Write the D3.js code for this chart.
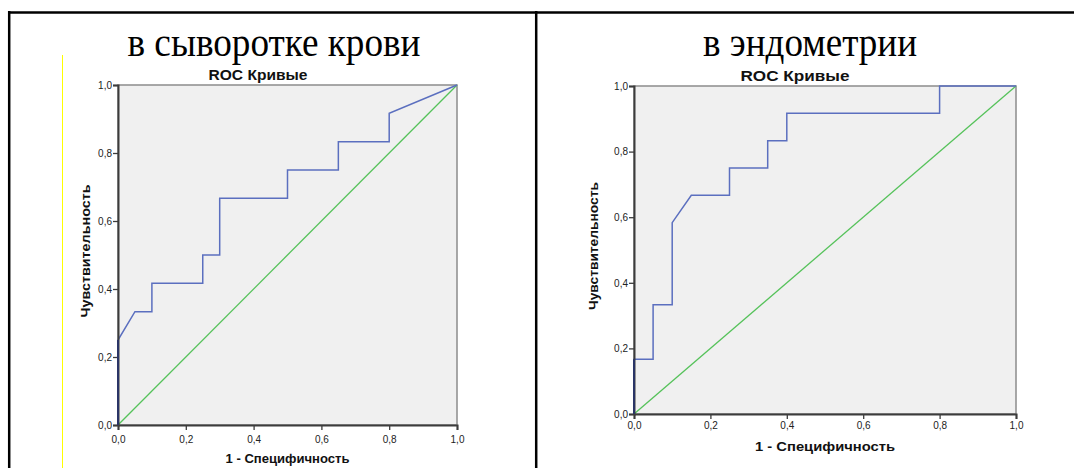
<!DOCTYPE html>
<html>
<head>
<meta charset="utf-8">
<script src="https://cdnjs.cloudflare.com/ajax/libs/d3/7.8.5/d3.min.js"></script>
<style>
  body { margin: 0; background: #fff; }
  .tick-lbl { font-family: "Liberation Sans", Arial, sans-serif; font-size: 10px; fill: #222; }
  .ax-title { font-family: "Liberation Sans", Arial, sans-serif; font-size: 12px; font-weight: bold; fill: #111; }
  .head { font-family: "Liberation Sans", Arial, sans-serif; font-size: 14.5px; font-weight: bold; fill: #111; }
  .cell-title { font-family: "Liberation Serif", "Times New Roman", serif; fill: #000; }
</style>
</head>
<body>
<svg id="chart" width="1074" height="468"></svg>
<script>
// ---- data ----
const panelTitles = ["в сыворотке крови", "в эндометрии"];
const chartTitle = "ROC Кривые";
const xAxisTitle = "1 - Специфичность";
const yAxisTitle = "Чувствительность";
const tickValues = [0, 0.2, 0.4, 0.6, 0.8, 1.0];

// ROC curve for serum (1 - specificity, sensitivity)
const serumFpr = [0, 0, 0.05, 0.1, 0.1, 0.25, 0.25, 0.3, 0.3, 0.5, 0.5, 0.65, 0.65, 0.8, 0.8, 1.0];
const serumTpr = [0, 0.25, 0.3333, 0.3333, 0.4167, 0.4167, 0.5, 0.5, 0.6667, 0.6667, 0.75, 0.75, 0.8333, 0.8333, 0.9167, 1.0];

// ROC curve for endometrium
const endoFpr = [0, 0, 0.05, 0.05, 0.1, 0.1, 0.15, 0.25, 0.25, 0.35, 0.35, 0.4, 0.4, 0.8, 0.8, 1.0];
const endoTpr = [0, 0.1667, 0.1667, 0.3333, 0.3333, 0.5833, 0.6667, 0.6667, 0.75, 0.75, 0.8333, 0.8333, 0.9167, 0.9167, 1.0, 1.0];

// reference (chance) line
const refLine = [0, 1];

var svg = d3.select("#chart");

// table frame
svg.append("line").attr("x1", 8).attr("x2", 1074).attr("y1", 12.5).attr("y2", 12.5)
  .attr("stroke", "#000").attr("stroke-width", 2.5);
svg.append("line").attr("x1", 9.2).attr("x2", 9.2).attr("y1", 11).attr("y2", 468)
  .attr("stroke", "#000").attr("stroke-width", 2.5);
svg.append("line").attr("x1", 536.2).attr("x2", 536.2).attr("y1", 11).attr("y2", 468)
  .attr("stroke", "#000").attr("stroke-width", 2.5);

// yellow edge of the pasted picture
svg.append("line").attr("x1", 62.5).attr("x2", 62.5).attr("y1", 55).attr("y2", 468)
  .attr("stroke", "#ffff00").attr("stroke-width", 1);

var panels = [
  {
    title: panelTitles[0], fpr: serumFpr, tpr: serumTpr,
    titleX: 274, titleW: 293,
    left: 118, right: 457, top: 85, bottom: 425,
    headX: 258, headW: 99, yLabX: 86, xLabY: 463, xLabW: 124, yLabW: 133, tickY: 443
  },
  {
    title: panelTitles[1], fpr: endoFpr, tpr: endoTpr,
    titleX: 810, titleW: 214,
    left: 634, right: 1016, top: 86, bottom: 414,
    headX: 795, headW: 109, yLabX: 594, xLabY: 451, xLabW: 140, yLabW: 128, tickY: 429
  }
];

panels.forEach(function(p) {
  var g = svg.append("g");

  g.append("text")
    .attr("class", "cell-title")
    .attr("x", p.titleX)
    .attr("y", 56)
    .attr("text-anchor", "middle")
    .attr("font-size", 41)
    .attr("textLength", p.titleW)
    .attr("lengthAdjust", "spacingAndGlyphs")
    .text(p.title);

  var x = d3.scaleLinear().domain([0, 1]).range([p.left, p.right]);
  var y = d3.scaleLinear().domain([0, 1]).range([p.bottom, p.top]);

  g.append("rect")
    .attr("x", x(0)).attr("y", y(1))
    .attr("width", x(1) - x(0)).attr("height", y(0) - y(1))
    .attr("fill", "#f0f0f0")
    .attr("stroke", "#8c8c8c")
    .attr("stroke-width", 1.5);

  // chart heading
  g.append("text")
    .attr("class", "head")
    .attr("x", p.headX)
    .attr("y", y(1) - 5)
    .attr("text-anchor", "middle")
    .attr("textLength", p.headW)
    .attr("lengthAdjust", "spacingAndGlyphs")
    .text(chartTitle);

  // chance line
  g.append("line")
    .attr("x1", x(refLine[0])).attr("y1", y(refLine[0]))
    .attr("x2", x(refLine[1])).attr("y2", y(refLine[1]))
    .attr("stroke", "#55c25a").attr("stroke-width", 1.3);

  // roc curve
  var pts = p.fpr.map(function(v, i) { return [v, p.tpr[i]]; });
  var line = d3.line().x(d => x(d[0])).y(d => y(d[1]));
  g.append("path")
    .datum(pts)
    .attr("d", line)
    .attr("fill", "none")
    .attr("stroke", "#5b6fbf")
    .attr("stroke-width", 1.5);

  // axes
  var xAxis = g.append("g")
    .attr("transform", "translate(0," + y(0) + ")")
    .call(d3.axisBottom(x).tickValues(tickValues).tickSize(5).tickPadding(2)
      .tickFormat(d => d3.format(".1f")(d).replace(".", ",")));
  var yAxis = g.append("g")
    .attr("transform", "translate(" + x(0) + ",0)")
    .call(d3.axisLeft(y).tickValues(tickValues).tickSize(5).tickPadding(1)
      .tickFormat(d => d3.format(".1f")(d).replace(".", ",")));

  [xAxis, yAxis].forEach(function(a) {
    a.select(".domain").attr("stroke", "#3c3c3c").attr("stroke-width", 2);
    a.selectAll(".tick line").attr("stroke", "#3c3c3c").attr("stroke-width", 1.3);
    a.selectAll(".tick text").attr("class", "tick-lbl").attr("font-family", null).attr("font-size", null);
  });
  xAxis.selectAll(".tick text").attr("dy", null).attr("y", p.tickY - y(0));

  // overlap of curve and y axis
  g.append("line")
    .attr("x1", x(0)).attr("x2", x(0))
    .attr("y1", y(p.fpr[0] === 0 ? p.tpr[0] : 0)).attr("y2", y(p.tpr[1]))
    .attr("stroke", "#2a3466").attr("stroke-width", 2);

  g.append("text")
    .attr("class", "ax-title")
    .attr("x", (x(0) + x(1)) / 2)
    .attr("y", p.xLabY)
    .attr("text-anchor", "middle")
    .attr("textLength", p.xLabW)
    .attr("lengthAdjust", "spacingAndGlyphs")
    .text(xAxisTitle);

  g.append("text")
    .attr("class", "ax-title")
    .attr("transform", "translate(" + p.yLabX + "," + ((y(0) + y(1)) / 2 - 4) + ") rotate(-90)")
    .attr("text-anchor", "middle")
    .attr("dy", "0.35em")
    .attr("textLength", p.yLabW)
    .attr("lengthAdjust", "spacingAndGlyphs")
    .text(yAxisTitle);
});
</script>
</body>
</html>
